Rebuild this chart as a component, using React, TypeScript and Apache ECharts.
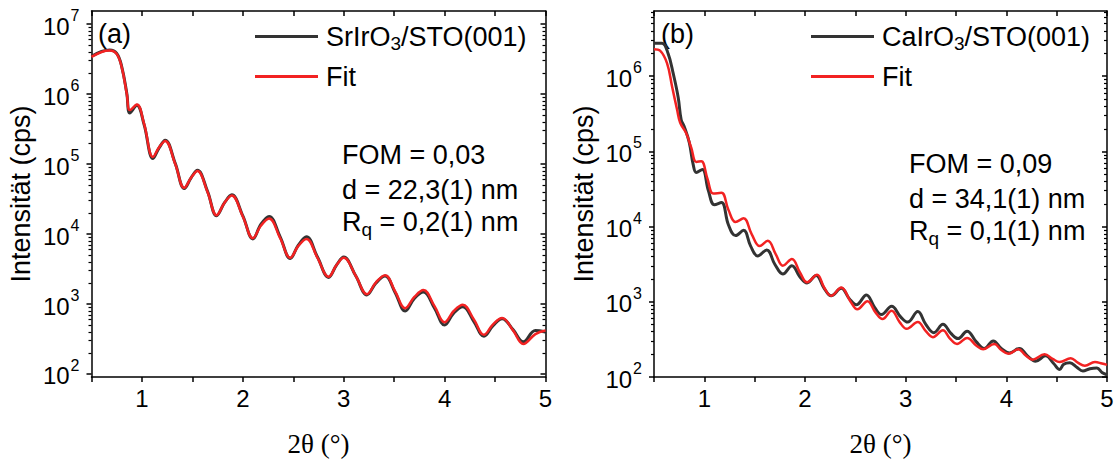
import React, { useEffect, useRef } from 'react';
import * as echarts from 'echarts';

// ---------- data (2θ in degrees, intensity in cps) ----------
const twoThetaA = [0.50, 0.60, 0.68, 0.75, 0.80, 0.85, 0.88, 0.95, 1.02, 1.11, 1.17, 1.23, 1.33, 1.42, 1.49, 1.55, 1.65, 1.74, 1.82, 1.89, 2.00, 2.10, 2.18, 2.26, 2.37, 2.47, 2.55, 2.63, 2.74, 2.85, 2.93, 3.00, 3.12, 3.23, 3.32, 3.41, 3.51, 3.61, 3.70, 3.79, 3.90, 4.00, 4.09, 4.18, 4.29, 4.39, 4.48, 4.57, 4.68, 4.78, 4.90, 5.00];
const dataA = [3.47e6, 4.07e6, 4.27e6, 3.80e6, 2.45e6, 1.02e6, 5.37e5, 6.92e5, 3.72e5, 1.20e5, 1.70e5, 2.19e5, 1.02e5, 4.47e4, 6.46e4, 8.13e4, 4.07e4, 1.82e4, 2.82e4, 3.63e4, 1.82e4, 8.51e3, 1.38e4, 1.78e4, 9.12e3, 4.47e3, 6.92e3, 9.12e3, 4.68e3, 2.40e3, 3.63e3, 4.68e3, 2.51e3, 1.35e3, 2.00e3, 2.51e3, 1.45e3, 794, 1.20e3, 1.48e3, 871, 501, 741, 912, 562, 347, 490, 617, 427, 288, 417, 398];
const fitA = [3.39e6, 3.98e6, 4.17e6, 3.72e6, 2.40e6, 1.00e6, 5.89e5, 7.08e5, 3.80e5, 1.26e5, 1.74e5, 2.14e5, 1.00e5, 4.57e4, 6.46e4, 7.94e4, 3.98e4, 1.86e4, 2.82e4, 3.55e4, 1.78e4, 8.71e3, 1.32e4, 1.66e4, 8.71e3, 4.57e3, 6.76e3, 8.51e3, 4.57e3, 2.45e3, 3.63e3, 4.57e3, 2.51e3, 1.38e3, 2.04e3, 2.57e3, 1.51e3, 871, 1.26e3, 1.58e3, 933, 550, 794, 977, 603, 363, 513, 631, 417, 269, 372, 417];

const twoThetaBData = [0.50, 0.58, 0.64, 0.69, 0.74, 0.77, 0.80, 0.85, 0.89, 0.92, 0.98, 1.04, 1.10, 1.17, 1.24, 1.31, 1.39, 1.46, 1.53, 1.62, 1.70, 1.78, 1.87, 1.95, 2.02, 2.11, 2.19, 2.26, 2.36, 2.44, 2.51, 2.61, 2.69, 2.76, 2.86, 2.95, 3.02, 3.12, 3.20, 3.28, 3.37, 3.45, 3.52, 3.61, 3.70, 3.78, 3.87, 3.95, 4.03, 4.13, 4.21, 4.29, 4.39, 4.47, 4.53, 4.57, 4.63, 4.70, 4.76, 4.83, 4.90, 4.95, 5.00];
const dataB = [2.75e6, 2.75e6, 2.00e6, 1.10e6, 5.25e5, 2.63e5, 2.14e5, 1.32e5, 6.61e4, 5.25e4, 5.75e4, 3.02e4, 1.95e4, 2.09e4, 1.05e4, 7.59e3, 8.91e3, 5.50e3, 4.07e3, 4.90e3, 3.16e3, 2.34e3, 3.02e3, 2.14e3, 1.78e3, 2.24e3, 1.51e3, 1.20e3, 1.51e3, 1.10e3, 912, 1.23e3, 851, 676, 871, 631, 537, 741, 501, 389, 501, 380, 324, 407, 295, 240, 302, 240, 209, 240, 191, 162, 191, 151, 126, 148, 155, 135, 120, 129, 132, 115, 107];
const twoThetaBFit = [0.50, 0.56, 0.63, 0.68, 0.73, 0.76, 0.82, 0.87, 0.92, 0.97, 1.03, 1.09, 1.17, 1.24, 1.31, 1.39, 1.47, 1.55, 1.63, 1.71, 1.78, 1.87, 1.95, 2.02, 2.12, 2.19, 2.26, 2.36, 2.45, 2.52, 2.62, 2.70, 2.77, 2.86, 2.94, 3.01, 3.12, 3.20, 3.27, 3.37, 3.44, 3.51, 3.61, 3.70, 3.77, 3.88, 3.95, 4.02, 4.12, 4.19, 4.26, 4.38, 4.46, 4.53, 4.64, 4.71, 4.78, 4.88, 4.95, 5.00];
const fitB = [2.29e6, 2.19e6, 1.48e6, 7.24e5, 3.55e5, 2.40e5, 1.74e5, 1.12e5, 7.24e4, 7.41e4, 4.37e4, 2.75e4, 2.82e4, 1.66e4, 1.15e4, 1.29e4, 7.94e3, 5.50e3, 6.46e3, 4.27e3, 3.02e3, 3.72e3, 2.45e3, 1.82e3, 2.29e3, 1.55e3, 1.20e3, 1.55e3, 1.02e3, 794, 1.02e3, 724, 589, 759, 537, 437, 537, 407, 339, 417, 324, 275, 331, 263, 234, 275, 229, 204, 234, 195, 170, 200, 174, 158, 178, 155, 141, 158, 151, 145];

// tick values
const majorTicksA = [1e2, 1e3, 1e4, 1e5, 1e6, 1e7];
const majorTicksB = [1e2, 1e3, 1e4, 1e5, 1e6];
const minorTicksA = [200, 300, 400, 500, 600, 700, 800, 900, 2e3, 3e3, 4e3, 5e3, 6e3, 7e3, 8e3, 9e3, 2e4, 3e4, 4e4, 5e4, 6e4, 7e4, 8e4, 9e4, 2e5, 3e5, 4e5, 5e5, 6e5, 7e5, 8e5, 9e5, 2e6, 3e6, 4e6, 5e6, 6e6, 7e6, 8e6, 9e6];
const minorTicksB = [200, 300, 400, 500, 600, 700, 800, 900, 2e3, 3e3, 4e3, 5e3, 6e3, 7e3, 8e3, 9e3, 2e4, 3e4, 4e4, 5e4, 6e4, 7e4, 8e4, 9e4, 2e5, 3e5, 4e5, 5e5, 6e5, 7e5, 8e5, 9e5, 2e6, 3e6, 4e6, 5e6, 6e6, 7e6];
const xRange = [0.5, 5];
const yRangeA = [90.6, 1.535e7];
const yRangeB = [100, 7.36e6];

const nameA = 'SrIrO3/STO(001)';
const nameB = 'CaIrO3/STO(001)';
const fitName = 'Fit';
const infoA = ['FOM = 0,03', 'd = 22,3(1) nm', '0,2(1) nm'];
const infoB = ['FOM = 0,09', 'd = 34,1(1) nm', '0,1(1) nm'];

const SANS = '"Liberation Sans", Arial, sans-serif';
const SERIF = '"Liberation Serif", "Times New Roman", serif';
const BLACK = '#333333';
const RED = '#f22222';
const TXT = 27;

const yLabelFormatter = (v: number) => {
  const e = Math.log10(v);
  if (Math.abs(e - Math.round(e)) > 0.01) return '';
  return `{b|10}{s|${Math.round(e)}}`;
};

function makeYAxes(gridIndex: number, range: number[], majors: number[], minors: number[]) {
  const line = { show: true, onZero: false, lineStyle: { color: '#000', width: 1.5 } };
  const base = { type: 'log', logBase: 10, gridIndex, min: range[0], max: range[1], splitLine: { show: false }, minorTick: { show: false } };
  return [
    {
      ...base, position: 'left',
      name: 'Intensität (cps)', nameLocation: 'middle', nameGap: 57,
      nameTextStyle: { fontFamily: SANS, fontSize: 27, color: '#000' },
      axisLine: line,
      axisTick: { show: true, inside: false, length: 5, customValues: majors, lineStyle: { color: '#000', width: 1.5 } },
      axisLabel: {
        show: true, customValues: majors, margin: 12, color: '#000', formatter: yLabelFormatter,
        rich: {
          b: { fontFamily: SANS, fontSize: 24, color: '#000', lineHeight: 24, padding: [4, 0, 0, 0] },
          s: { fontFamily: SANS, fontSize: 16, color: '#000', lineHeight: 24, padding: [0, 0, 17, 1] },
        },
      },
    },
    {
      ...base, position: 'left',
      axisLine: { show: false },
      axisTick: { show: true, inside: false, length: 3, customValues: minors, lineStyle: { color: '#000', width: 1.2 } },
      axisLabel: { show: false },
    },
    {
      ...base, position: 'right',
      axisLine: line,
      axisTick: { show: true, inside: true, length: 5, customValues: majors, lineStyle: { color: '#000', width: 1.5 } },
      axisLabel: { show: false },
    },
    {
      ...base, position: 'right',
      axisLine: { show: false },
      axisTick: { show: true, inside: true, length: 3, customValues: minors, lineStyle: { color: '#000', width: 1.2 } },
      axisLabel: { show: false },
    },
  ];
}

function makeXAxes(gridIndex: number) {
  const line = { show: true, onZero: false, lineStyle: { color: '#000', width: 1.5 } };
  const base = { type: 'value', gridIndex, min: xRange[0], max: xRange[1], interval: 0.5, splitLine: { show: false } };
  return [
    {
      ...base, position: 'bottom',
      name: '2θ (°)', nameLocation: 'middle', nameGap: 53,
      nameTextStyle: { fontFamily: SERIF, fontSize: 27, color: '#000' },
      axisLine: line,
      axisTick: { show: true, inside: false, length: 5, lineStyle: { color: '#000', width: 1.5 } },
      axisLabel: {
        show: true, margin: 9, color: '#000', fontFamily: SANS, fontSize: 24,
        formatter: (v: number) => (Math.abs(v - Math.round(v)) < 1e-6 && v >= 1 ? String(Math.round(v)) : ''),
      },
    },
    {
      ...base, position: 'top',
      axisLine: line,
      axisTick: { show: true, inside: true, length: 5, lineStyle: { color: '#000', width: 1.5 } },
      axisLabel: { show: false },
    },
  ];
}

const legendRich = {
  n: { fontFamily: SANS, fontSize: TXT, color: '#000', lineHeight: 30, padding: [0, 0, 0, 3] },
  m: { fontFamily: SANS, fontSize: TXT, color: '#000', lineHeight: 30 },
  s: { fontFamily: SANS, fontSize: 19, color: '#000', lineHeight: 30, padding: [14, 0, 0, 0] },
};
const legendFormatter = (name: string) => {
  const m = name.match(/^(.*?O)3(\/.*)$/);
  if (m) return `{n|${m[1]}}{s|3}{m|${m[2]}}`;
  return `{n|${name}}`;
};

const infoRich = {
  n: { fontFamily: SANS, fontSize: TXT, color: '#000', lineHeight: 30 },
  s: { fontFamily: SANS, fontSize: 19, color: '#000', lineHeight: 30, padding: [14, 0, 0, 0] },
};

function infoTexts(x: number, ys: number[], info: string[]) {
  return [
    { type: 'text', x, y: ys[0], style: { text: `{n|${info[0]}}`, rich: infoRich, verticalAlign: 'middle', align: 'left' } },
    { type: 'text', x, y: ys[1], style: { text: `{n|${info[1]}}`, rich: infoRich, verticalAlign: 'middle', align: 'left' } },
    { type: 'text', x, y: ys[2], style: { text: `{n|R}{s|q}{n| = ${info[2]}}`, rich: infoRich, verticalAlign: 'middle', align: 'left' } },
  ];
}

export default function App() {
  const ref = useRef<HTMLDivElement>(null);
  useEffect(() => {
    if (!ref.current) return;
    const chart = echarts.init(ref.current, undefined, { renderer: 'svg' });
    const lineSeries = (name: string, xs: number[], ys: number[], xi: number, yi: number, color: string, width: number, z: number) => ({
      type: 'line', name, xAxisIndex: xi, yAxisIndex: yi,
      data: xs.map((x, i) => [x, ys[i]]),
      showSymbol: false, symbol: 'none', smooth: 0.4,
      lineStyle: { color, width }, itemStyle: { color }, z,
      emphasis: { disabled: true },
    });
    const legendBase = {
      orient: 'vertical', padding: 0, icon: 'rect',
      itemWidth: 63, itemHeight: 3, itemGap: 10, selectedMode: false,
      formatter: legendFormatter, textStyle: { rich: legendRich },
    };
    const option: any = {
      animation: false,
      backgroundColor: '#fff',
      grid: [
        { left: 91.5, top: 11, width: 454, height: 366, outerBoundsMode: 'none', containLabel: false },
        { left: 654, top: 11, width: 453, height: 366, outerBoundsMode: 'none', containLabel: false },
      ],
      xAxis: [...makeXAxes(0), ...makeXAxes(1)],
      yAxis: [
        ...makeYAxes(0, yRangeA, majorTicksA, minorTicksA),
        ...makeYAxes(1, yRangeB, majorTicksB, minorTicksB),
      ],
      legend: [
        { ...legendBase, data: [nameA, fitName], left: 255, top: 20 },
        { ...legendBase, data: [nameB, fitName], left: 811, top: 20 },
      ],
      graphic: [
        { type: 'text', x: 98, y: 34, style: { text: '(a)', fontFamily: SANS, fontSize: TXT, fill: '#000', verticalAlign: 'middle', align: 'left' } },
        { type: 'text', x: 661, y: 34, style: { text: '(b)', fontFamily: SANS, fontSize: TXT, fill: '#000', verticalAlign: 'middle', align: 'left' } },
        ...infoTexts(342, [155, 190, 222], infoA),
        ...infoTexts(909, [164, 199, 231], infoB),
      ],
      series: [
        lineSeries(nameA, twoThetaA, dataA, 0, 0, BLACK, 3, 2),
        lineSeries(fitName, twoThetaA, fitA, 0, 0, RED, 2.5, 3),
        lineSeries(nameB, twoThetaBData, dataB, 2, 4, BLACK, 3, 2),
        lineSeries(fitName, twoThetaBFit, fitB, 2, 4, RED, 2.5, 3),
      ],
    };
    chart.setOption(option);
    return () => chart.dispose();
  }, []);
  return <div ref={ref} style={{ position: 'fixed', left: 0, top: 0, width: 1119, height: 461, background: '#fff' }} />;
}
